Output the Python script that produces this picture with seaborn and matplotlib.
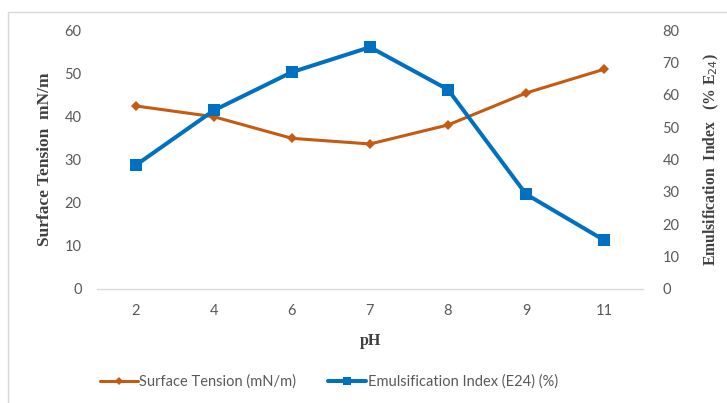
import matplotlib
matplotlib.use("Agg")
import matplotlib.pyplot as plt
from matplotlib.patches import Rectangle
import seaborn as sns
import pandas as pd

# pH levels tested and the two measured responses
ph_levels = ["2", "4", "6", "7", "8", "9", "11"]
surface_tension = [42.4, 39.9, 34.9, 33.6, 38.0, 45.4, 50.9]      # mN/m
emulsification_index = [38.3, 55.2, 67.0, 74.7, 61.6, 29.3, 15.1]  # E24 %

orange = "#C55A11"
blue = "#0070C0"
tick_gray = "#595959"

sns.set_theme(style="white")
plt.rcParams["font.family"] = ["Lato", "DejaVu Sans"]

df = pd.DataFrame({"pH": ph_levels,
                   "st": surface_tension,
                   "ei": emulsification_index})

fig = plt.figure(figsize=(7.27, 4.03), dpi=100)
fig.patch.set_facecolor("white")
# chart-area frame
fig.patches.append(Rectangle((8 / 727, -0.1), 1.2, 1 - 12 / 403 + 0.1,
                             transform=fig.transFigure, fill=False,
                             edgecolor="#D9D9D9", linewidth=1.0))

ax = fig.add_axes([97 / 727, 1 - 289 / 403, 546 / 727, 259 / 403])
ax2 = ax.twinx()

sns.lineplot(data=df, x="pH", y="st", ax=ax, sort=False, color=orange,
             linewidth=2.2, marker="D", markersize=5.5, markeredgewidth=0,
             label="Surface Tension (mN/m)", legend=False)
sns.lineplot(data=df, x="pH", y="ei", ax=ax2, sort=False, color=blue,
             linewidth=2.9, marker="s", markersize=8.5, markeredgewidth=0,
             label="Emulsification Index (E24) (%)", legend=False)

ax.set_xlim(-0.5, len(ph_levels) - 0.5)
ax.set_ylim(0, 60)
ax2.set_ylim(0, 80)
ax.set_yticks(range(0, 61, 10))
ax2.set_yticks(range(0, 81, 10))

for a in (ax, ax2):
    for s in a.spines.values():
        s.set_visible(False)
    a.grid(False)
    a.set_facecolor("none")
ax.spines["bottom"].set_visible(True)
ax.spines["bottom"].set_color("#D9D9D9")
ax.spines["bottom"].set_linewidth(1.0)

ax.tick_params(axis="y", length=0, pad=11, labelsize=10.5, labelcolor=tick_gray)
ax2.tick_params(axis="y", length=0, pad=14, labelsize=10.5, labelcolor=tick_gray)
ax.tick_params(axis="x", length=0, pad=11, labelsize=10.5, labelcolor=tick_gray)

serif_bold = dict(family=["Liberation Serif", "DejaVu Serif"],
                  fontweight="bold", color="#404040")
ax.set_xlabel("pH", fontsize=11.5, **serif_bold)
ax.set_ylabel("Surface Tension  mN/m", fontsize=12.5, **serif_bold)
ax2.set_ylabel("Emulsification  Index   (% E$_{24}$)", rotation=90,
               fontsize=11.3, **serif_bold)
ax.yaxis.set_label_coords(-0.08, 0.5)
ax2.yaxis.set_label_coords(1.107, 0.5)
ax.xaxis.set_label_coords(0.5, -0.17)

h1, l1 = ax.get_legend_handles_labels()
h2, l2 = ax2.get_legend_handles_labels()
fig.legend(h1 + h2, l1 + l2, loc="center", ncol=2, frameon=False,
           bbox_to_anchor=(329 / 727, 1 - 382 / 403), fontsize=10.5,
           handlelength=2.6, handletextpad=0.1, columnspacing=2.2,
           markerscale=0.75, labelcolor=tick_gray)

fig.savefig("out.png", dpi=100, facecolor="white")
